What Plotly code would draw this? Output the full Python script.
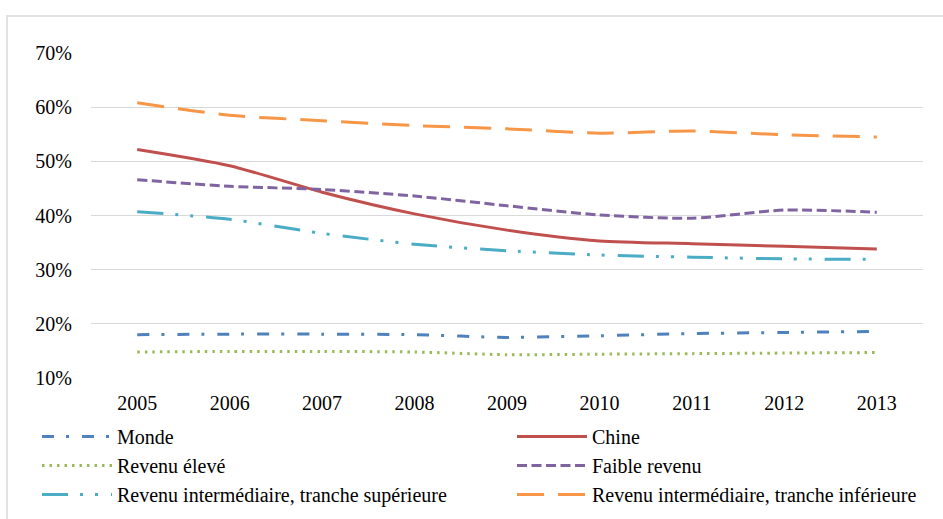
import plotly.graph_objects as go

years = ["2005", "2006", "2007", "2008", "2009", "2010", "2011", "2012", "2013"]

monde = [0.180, 0.181, 0.181, 0.180, 0.175, 0.178, 0.182, 0.184, 0.186]
chine = [0.522, 0.492, 0.443, 0.403, 0.373, 0.353, 0.348, 0.343, 0.338]
revenu_eleve = [0.148, 0.149, 0.149, 0.148, 0.143, 0.144, 0.145, 0.146, 0.147]
faible_revenu = [0.466, 0.454, 0.448, 0.436, 0.418, 0.401, 0.395, 0.410, 0.406]
inter_sup = [0.407, 0.393, 0.367, 0.347, 0.335, 0.327, 0.323, 0.320, 0.319]
inter_inf = [0.608, 0.585, 0.575, 0.566, 0.560, 0.552, 0.556, 0.549, 0.545]

names = ["Monde", "Chine", "Revenu élevé", "Faible revenu",
         "Revenu intermédiaire, tranche supérieure",
         "Revenu intermédiaire, tranche inférieure"]

series = [
    (names[0], monde, "#4F81BD", "12px,12px,3px,13px", "legend"),
    (names[1], chine, "#C0504D", "solid", "legend2"),
    (names[2], revenu_eleve, "#9BBB59", "2.5px,5px", "legend"),
    (names[3], faible_revenu, "#8064A2", "10px,4.5px", "legend2"),
    (names[4], inter_sup, "#4BACC6", "26px,12px,3px,12px,3px,13px", "legend"),
    (names[5], inter_inf, "#F79646", "27px,14px", "legend2"),
]

FONT = "Liberation Serif"

fig = go.Figure()
for i, (name, vals, color, dash, leg) in enumerate(series):
    fig.add_trace(go.Scatter(
        x=years, y=vals, name=name, mode="lines",
        line=dict(color=color, width=3, dash=dash, shape="spline", smoothing=0.7),
        legend=leg, legendgroup=name, legendrank=i,
    ))

W, H = 943, 519
L, R, T, B = 91, 20, 53, 141

fig.update_layout(
    width=W, height=H,
    margin=dict(l=L, r=R, t=T, b=B, autoexpand=False),
    paper_bgcolor="white", plot_bgcolor="white",
    font=dict(family=FONT, size=20, color="#000000"),
    showlegend=True,
    legend=dict(
        xref="container", yref="container",
        x=37 / W, y=1 - 417 / H, xanchor="left", yanchor="top",
        orientation="v", itemwidth=70, tracegroupgap=0,
        font=dict(family=FONT, size=20, color="#000000"),
        bgcolor="rgba(0,0,0,0)",
    ),
    legend2=dict(
        xref="container", yref="container",
        x=512 / W, y=1 - 417 / H, xanchor="left", yanchor="top",
        orientation="v", itemwidth=70, tracegroupgap=0,
        font=dict(family=FONT, size=20, color="#000000"),
        bgcolor="rgba(0,0,0,0)",
    ),
    xaxis=dict(
        type="category", range=[-0.5, 8.5], showgrid=False, zeroline=False,
        showline=False, ticks="", ticklabelstandoff=11,
        tickfont=dict(family=FONT, size=20, color="#000000"),
    ),
    yaxis=dict(
        range=[0.1, 0.7], dtick=0.1, tick0=0.1, tickformat=".0%",
        showgrid=True, gridcolor="#D9D9D9", gridwidth=1.3,
        zeroline=False, showline=False, ticks="", ticklabelstandoff=18,
        tickfont=dict(family=FONT, size=20, color="#000000"),
    ),
    shapes=[dict(
        type="rect", xref="paper", yref="paper",
        x0=(7 - L) / (W - L - R), x1=(W + 5 - L) / (W - L - R),
        y0=-(H + 5 - (H - B)) / (H - T - B), y1=1 + (T - 16) / (H - T - B),
        line=dict(color="#D9D9D9", width=1.5), layer="below",
    )],
)

fig.write_html("out.html", config={"displayModeBar": False},
               post_script="document.body.style.margin='0px';")
